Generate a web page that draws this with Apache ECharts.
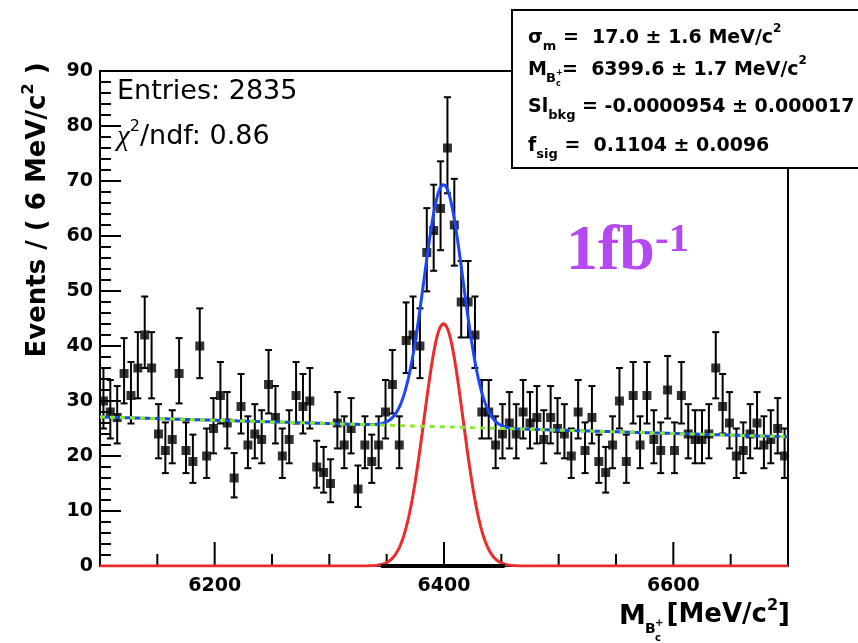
<!DOCTYPE html>
<html>
<head>
<meta charset="utf-8">
<script src="https://cdn.jsdelivr.net/npm/echarts@6/dist/echarts.min.js"></script>
<style>
html, body { margin: 0; padding: 0; background: #fff; }
#main { width: 858px; height: 643px; }
</style>
</head>
<body>
<div id="main"></div>
<script>
// histogram: 100 bins of 6 MeV from 6100 to 6700
var xMin = 6100, xMax = 6700, binWidth = 6;
var counts = [
    30, 28, 27, 35, 31, 36, 42, 36, 24, 21,
    23, 35, 21, 19, 40, 20, 25, 31, 26, 16,
    29, 22, 24, 23, 33, 27, 20, 23, 31, 29,
    30, 18, 17, 15, 26, 22, 25, 14, 22, 19,
    22, 28, 33, 22, 41, 42, 40, 57, 61, 65,
    76, 62, 48, 48, 42, 28, 28, 22, 24, 26,
    24, 28, 26, 27, 23, 27, 25, 24, 20, 28,
    21, 27, 19, 17, 22, 30, 19, 31, 22, 31,
    23, 21, 32, 21, 31, 24, 23, 23, 24, 36,
    29, 26, 20, 21, 24, 26, 22, 23, 25, 20
];
var yTicks = [0, 10, 20, 30, 40, 50, 60, 70, 80, 90];
var xLabels = [6200, 6400, 6600];
var xMinorTicks = [6150, 6250, 6300, 6350, 6450, 6500, 6550, 6650];

// fit results (from the stats box)
var entries = 2835;
var sigMean = 6399.6, sigSigma = 17.0, fSig = 0.1104;
var bkgAtMin = 27.1, bkgAtMax = 23.5;

var font = 'DejaVu Sans, Liberation Sans, sans-serif';
var myChart = echarts.init(document.getElementById('main'));

var points = [], errBars = [];
for (var i = 0; i < counts.length; i++) {
    var xc = xMin + binWidth * (i + 0.5);
    var n = counts[i];
    var d = Math.sqrt(n + 0.25);
    points.push([xc, n]);
    errBars.push([xc, n + 0.5 - d, n + 0.5 + d]);  // poisson interval
}

var sigAmp = fSig * entries * binWidth / (sigSigma * Math.sqrt(2 * Math.PI));
var sigCurve = [], totCurve = [], bkgCurve = [];
for (var x = xMin; x <= xMax; x += 1) {
    var s = sigAmp * Math.exp(-0.5 * Math.pow((x - sigMean) / sigSigma, 2));
    var b = bkgAtMin + (bkgAtMax - bkgAtMin) * (x - xMin) / (xMax - xMin);
    sigCurve.push([x, s]);
    bkgCurve.push([x, b]);
    totCurve.push([x, s + b]);
}

// x ticks drawn by hand: [value, length in px]
var xTickData = [];
xMinorTicks.forEach(function (v) { xTickData.push([v, 12]); });
xLabels.forEach(function (v) { xTickData.push([v, 24]); });

function txt(size, lh, va) {
    var o = { fontSize: size, fontWeight: 'bold', fontFamily: font, lineHeight: lh || size, fill: '#000' };
    if (va) o.verticalAlign = va;
    return o;
}
var boxRich = { a: txt(19, 30), s: txt(13, 13, 'bottom'), p: txt(12, 12, 'top') };
function frameLine() {
    return { show: true, onZero: false, lineStyle: { color: '#000', width: 2 } };
}

option = {
    animation: false,
    backgroundColor: '#fff',
    grid: { left: 100, right: 70, top: 71, bottom: 77, show: false },
    xAxis: [{
        type: 'value',
        min: xMin, max: xMax, interval: 50,
        axisLine: frameLine(),
        axisTick: { show: false },
        axisLabel: {
            interval: 0, margin: 11,
            color: '#000', fontSize: 19, fontWeight: 'bold', fontFamily: font,
            formatter: function (v) { return xLabels.indexOf(v) >= 0 ? String(v) : ''; }
        },
        splitLine: { show: false }
    }, {
        type: 'value', position: 'top',
        min: xMin, max: xMax,
        axisLine: frameLine(),
        axisTick: { show: false },
        axisLabel: { show: false },
        splitLine: { show: false }
    }],
    yAxis: [{
        type: 'value',
        min: yTicks[0], max: yTicks[yTicks.length - 1], interval: 10,
        axisLine: frameLine(),
        axisTick: { show: true, inside: true, length: 21, lineStyle: { color: '#000', width: 2 } },
        minorTick: { show: true, splitNumber: 5, length: 11, lineStyle: { color: '#000', width: 2 } },
        axisLabel: { margin: 7, color: '#000', fontSize: 19, fontWeight: 'bold', fontFamily: font },
        splitLine: { show: false }
    }, {
        type: 'value', position: 'right',
        min: yTicks[0], max: yTicks[yTicks.length - 1],
        axisLine: frameLine(),
        axisTick: { show: false },
        axisLabel: { show: false },
        splitLine: { show: false }
    }],
    series: [{
        name: 'xticks',
        type: 'custom',
        clip: false,
        silent: true,
        renderItem: function (params, api) {
            var p = api.coord([api.value(0), 0]);
            return {
                type: 'line',
                shape: { x1: p[0], y1: p[1], x2: p[0], y2: p[1] - api.value(1) },
                style: { stroke: '#000', lineWidth: 2 }
            };
        },
        data: xTickData,
        z: 1
    }, {
        name: 'errors',
        type: 'custom',
        renderItem: function (params, api) {
            var top = api.coord([api.value(0), api.value(2)]);
            var bot = api.coord([api.value(0), api.value(1)]);
            var hw = 3.5, st = { stroke: '#000', lineWidth: 2 };
            return {
                type: 'group',
                children: [
                    { type: 'line', shape: { x1: top[0], y1: top[1], x2: bot[0], y2: bot[1] }, style: st },
                    { type: 'line', shape: { x1: top[0] - hw, y1: top[1], x2: top[0] + hw, y2: top[1] }, style: st },
                    { type: 'line', shape: { x1: bot[0] - hw, y1: bot[1], x2: bot[0] + hw, y2: bot[1] }, style: st }
                ]
            };
        },
        data: errBars,
        z: 2
    }, {
        name: 'data',
        type: 'scatter',
        symbol: 'rect',
        symbolSize: 9,
        itemStyle: { color: '#000' },
        data: points,
        z: 3
    }, {
        name: 'total',
        type: 'line',
        showSymbol: false,
        lineStyle: { color: '#1a45ff', width: 3 },
        data: totCurve,
        z: 4
    }, {
        name: 'signal',
        type: 'line',
        showSymbol: false,
        lineStyle: { color: '#ee2a2a', width: 3 },
        data: sigCurve,
        z: 5
    }, {
        name: 'signalBase',
        type: 'line',
        showSymbol: false,
        lineStyle: { color: '#000', width: 4 },
        data: [[6345, 0], [6453, 0]],
        z: 6
    }, {
        name: 'background',
        type: 'line',
        showSymbol: false,
        lineStyle: { color: '#8be82a', width: 3, type: [5, 5] },
        data: bkgCurve,
        z: 6
    }],
    graphic: [
        // stats box
        { type: 'rect', shape: { x: 512, y: 10, width: 360, height: 158 }, style: { fill: '#fff', stroke: '#000', lineWidth: 2 }, z: 100 },
        { type: 'text', x: 528, y: 38, z: 101, style: { text: '{a|σ}{s|m}{a| =  17.0 ± 1.6 MeV/c}{p|2}', rich: boxRich, verticalAlign: 'middle' } },
        { type: 'text', x: 528, y: 70, z: 101, style: { text: '{a|M}', rich: boxRich, verticalAlign: 'middle' } },
        { type: 'text', x: 546, y: 79, z: 101, style: { text: 'B', font: 'bold 13px ' + font, fill: '#000', verticalAlign: 'middle' } },
        { type: 'text', x: 556, y: 73, z: 101, style: { text: '+', font: 'bold 8px ' + font, fill: '#000', verticalAlign: 'middle' } },
        { type: 'text', x: 556, y: 84, z: 101, style: { text: 'c', font: 'bold 8px ' + font, fill: '#000', verticalAlign: 'middle' } },
        { type: 'text', x: 562, y: 70, z: 101, style: { text: '{a|=  6399.6 ± 1.7 MeV/c}{p|2}', rich: boxRich, verticalAlign: 'middle' } },
        { type: 'text', x: 528, y: 107, z: 101, style: { text: '{a|Sl}{s|bkg}{a| = -0.0000954 ± 0.000017}', rich: boxRich, verticalAlign: 'middle' } },
        { type: 'text', x: 528, y: 146, z: 101, style: { text: '{a|f}{s|sig}{a| =  0.1104 ± 0.0096}', rich: boxRich, verticalAlign: 'middle' } },

        // entries and chi2
        { type: 'text', x: 117, y: 92, z: 101, style: { text: 'Entries: 2835', font: '27px ' + font, fill: '#000', verticalAlign: 'middle' } },
        { type: 'text', x: 117, y: 137, z: 101, style: {
            text: '{c|χ}{p|2}{a|/ndf: 0.86}', verticalAlign: 'middle',
            rich: {
                c: { fontSize: 29, fontStyle: 'italic', fontFamily: 'Liberation Serif, serif', lineHeight: 36, fill: '#000' },
                p: { fontSize: 16, fontFamily: font, lineHeight: 16, verticalAlign: 'top', fill: '#000' },
                a: { fontSize: 27, fontFamily: font, lineHeight: 36, fill: '#000' }
            }
        } },

        // luminosity label
        { type: 'text', x: 566, y: 284, z: 101, style: {
            text: '{b|1fb}{p|-1}', verticalAlign: 'bottom',
            rich: {
                b: { fontSize: 64, fontWeight: 'bold', fontFamily: 'Liberation Serif, serif', lineHeight: 64, fill: '#b548f2' },
                p: { fontSize: 41, fontWeight: 'bold', fontFamily: 'Liberation Serif, serif', lineHeight: 41, verticalAlign: 'top', fill: '#b548f2' }
            }
        } },

        // y axis title
        { type: 'text', x: 38, y: 210, rotation: Math.PI / 2, z: 101, style: {
            text: '{a|Events / ( 6 MeV/c}{p|2}{a| )}', align: 'center', verticalAlign: 'middle',
            rich: { a: txt(26, 34), p: txt(16, 16, 'top') }
        } },

        // x axis title
        { type: 'text', x: 619, y: 617, z: 101, style: { text: 'M', font: 'bold 27px ' + font, fill: '#000', verticalAlign: 'middle' } },
        { type: 'text', x: 645, y: 629, z: 101, style: { text: 'B', font: 'bold 14px ' + font, fill: '#000', verticalAlign: 'middle' } },
        { type: 'text', x: 655, y: 623, z: 101, style: { text: '+', font: 'bold 10px ' + font, fill: '#000', verticalAlign: 'middle' } },
        { type: 'text', x: 655, y: 638, z: 101, style: { text: 'c', font: 'bold 10px ' + font, fill: '#000', verticalAlign: 'middle' } },
        { type: 'text', x: 790, y: 615, z: 101, style: {
            text: '{a|[MeV/c}{p|2}{a|]}', align: 'right', verticalAlign: 'middle',
            rich: { a: txt(26, 34), p: txt(16, 16, 'top') }
        } }
    ]
};

myChart.setOption(option);
</script>
</body>
</html>
